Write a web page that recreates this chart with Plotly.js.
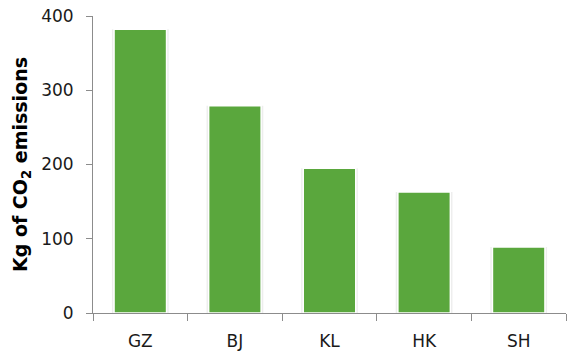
<!DOCTYPE html>
<html>
<head>
<meta charset="utf-8">
<script src="https://cdn.plot.ly/plotly-3.0.1.min.js"></script>
<style>
  html, body { margin: 0; padding: 0; background: #fff; }
  #chart { width: 569px; height: 355px; }
</style>
</head>
<body>
<div id="chart"></div>
<script>
// Emissions per city
const cities = ['GZ', 'BJ', 'KL', 'HK', 'SH'];
const emissions = [382, 279, 195, 163, 89];
const yTicks = [0, 100, 200, 300, 400];

const fontFamily = 'DejaVu Sans, Verdana, sans-serif';

// soft shadow behind each bar
const shadow = {
  type: 'bar',
  x: cities,
  y: emissions,
  width: 0.6,
  marker: { color: 'rgba(0,0,0,0.07)', line: { width: 0 } },
  hoverinfo: 'skip',
  showlegend: false
};

const bars = {
  type: 'bar',
  x: cities,
  y: emissions,
  width: 0.555,
  marker: { color: '#5aa73d', line: { color: '#ffffff', width: 1.5 } },
  showlegend: false
};

const layout = {
  width: 569,
  height: 355,
  margin: { l: 93, r: 3, t: 16, b: 42 },
  paper_bgcolor: '#ffffff',
  plot_bgcolor: '#ffffff',
  barmode: 'overlay',
  font: { family: fontFamily, size: 17, color: '#1a1a1a' },
  xaxis: {
    type: 'category',
    showline: true,
    linecolor: '#8c8c8c',
    linewidth: 1,
    ticks: 'outside',
    tickson: 'boundaries',
    ticklen: 7,
    tickcolor: '#8c8c8c',
    ticklabelstandoff: 13,
    tickfont: { family: fontFamily, size: 17, color: '#1a1a1a' },
    showgrid: false,
    zeroline: false,
    fixedrange: true
  },
  yaxis: {
    range: [0, 400],
    tickvals: yTicks,
    ticktext: yTicks.map(String),
    showline: true,
    linecolor: '#8c8c8c',
    linewidth: 1,
    ticks: 'outside',
    ticklen: 6,
    tickcolor: '#8c8c8c',
    ticklabelstandoff: 9,
    tickfont: { family: fontFamily, size: 17, color: '#1a1a1a' },
    showgrid: false,
    zeroline: false,
    title: {
      text: '<b>Kg of CO<sub>2</sub> emissions</b>',
      font: { family: fontFamily, size: 19, color: '#000000' },
      standoff: 8
    },
    fixedrange: true
  }
};

Plotly.newPlot('chart', [shadow, bars], layout, { displayModeBar: false, staticPlot: true });
</script>
</body>
</html>
